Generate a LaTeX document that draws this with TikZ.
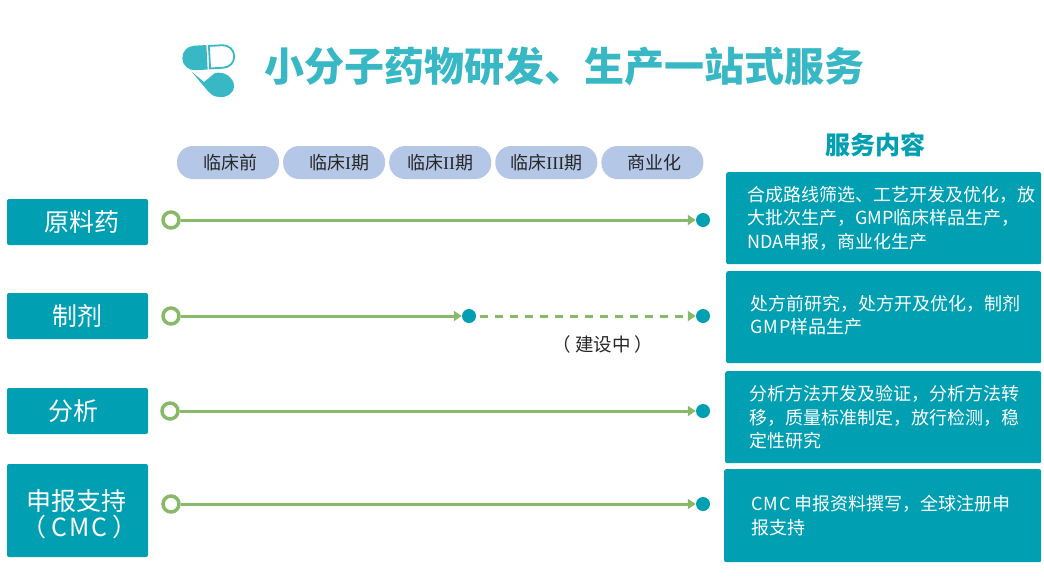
\documentclass[tikz,border=0pt]{standalone}
\usepackage{fontspec}
\setmainfont{Noto Sans CJK SC}
\newfontfamily\serifi{Liberation Serif}
\newcommand{\widelatin}[1]{{\addfontfeature{LetterSpace=6}#1}}
\usetikzlibrary{arrows.meta, positioning, calc}
\definecolor{tealbox}{RGB}{0,159,178}
\definecolor{titleteal}{RGB}{56,184,197}
\definecolor{pillblue}{RGB}{180,199,231}
\definecolor{linegreen}{RGB}{135,185,105}
\begin{document}
\begin{tikzpicture}[x=1pt, y=-1pt]
% node styles
\tikzstyle{stage} = [rectangle, rounded corners=16pt, fill=pillblue, minimum width=102pt, minimum height=33pt, inner sep=0pt, font=\fontsize{18}{20}\selectfont, text=black!85]
\tikzstyle{track} = [rectangle, rounded corners=2pt, fill=tealbox, text=white, minimum width=141pt, inner sep=0pt, align=center, font=\fontsize{25}{26}\selectfont]
\tikzstyle{service} = [rectangle, rounded corners=2pt, fill=tealbox, anchor=north west, inner sep=0pt]
\tikzstyle{detail} = [anchor=west, inner sep=0pt, text=white, align=left, font=\fontsize{18}{23.5}\selectfont]
\tikzstyle{start} = [circle, draw=linegreen, line width=3.5pt, fill=white, minimum size=16pt, inner sep=0pt]
\tikzstyle{dot} = [circle, fill=tealbox, minimum size=14pt, inner sep=0pt]
\tikzstyle{line} = [draw=linegreen, line width=3pt, -{Triangle[length=8pt,width=10pt]}]
\useasboundingbox (0,0) rectangle (1044,576);

% icon
\begin{scope}[rotate around={3:(208,57)}]
\fill[titleteal] (207,45) -- (194.5,45) arc[start angle=90, end angle=270, radius=12.25pt] -- (207,69.5) -- cycle;
\draw[titleteal, line width=1.8pt] (209.5,46) -- (223,46) arc[start angle=90, end angle=-90, radius=11.25pt] -- (209.5,68.5) -- cycle;
\end{scope}
\fill[titleteal] (191.5,71.5) -- (204,82) -- (215,73) .. controls (225,71) and (234,78) .. (234,86)
  .. controls (234,94) and (226,98) .. (219,97) .. controls (213,97) and (210,93) .. (207,90) -- cycle;
\node (title) at (564,66) {\fontsize{40}{42}\selectfont\bfseries\color{titleteal}小分子药物研发、生产一站式服务};

% stages
\node [stage] (pre) at (228,162.5) {\hspace*{4pt}临床前};
\node [stage, right=3.7pt of pre] (one) {\hspace*{10pt}临床{\serifi I}期};
\node [stage, right=3.7pt of one] (two) {临床{\serifi II}期};
\node [stage, right=3.7pt of two] (three) {临床{\serifi III}期};
\node [stage, right=3.7pt of three] (market) {\hspace*{5pt}商业化};
\node (content) at (875,145) {\fontsize{25}{27}\selectfont\bfseries\color{tealbox}服务内容};

% left column
\node [track, minimum height=46pt] (api) at (77.5,222) {\hspace*{8pt}原料药};
\node [track, minimum height=46pt] (prep) at (77.5,316) {制剂};
\node [track, minimum height=46pt] (ana) at (77.5,411) {分析\hspace*{8pt}};
\node [track, minimum height=93pt] (cmc) at (77.5,510.5) {};
\node [text=white, align=center, inner sep=0pt, font=\fontsize{25}{26}\selectfont] (cmcname) at ($(cmc)+(-1,4)$) {申报支持\\\hspace*{6pt}（ \widelatin{CMC} ）};

% service boxes
\node [service, minimum width=315pt, minimum height=92pt] (sa) at (726,172) {};
\node [service, minimum width=315pt, minimum height=92pt] (sb) at (726,271) {};
\node [service, minimum width=316pt, minimum height=92pt] (sc) at (725,371) {};
\node [service, minimum width=317pt, minimum height=93pt] (sd) at (724,469) {};
\node [detail] (ta) at ($(sa.west)+(21,0)$) {合成路线筛选、工艺开发及优化，放\\大批次生产，GMP临床样品生产，\\NDA申报，商业化生产};
\node [detail] (tb) at ($(sb.west)+(24,-2)$) {处方前研究，处方开及优化，制剂\\\widelatin{GMP}样品生产};
\node [detail] (tc) at ($(sc.west)+(24,0)$) {分析方法开发及验证，分析方法转\\移，质量标准制定，放行检测，稳\\定性研究};
\node [detail] (td) at ($(sd.west)+(27,0)$) {\widelatin{CMC} 申报资料撰写，全球注册申\\报支持};

% tracks
\node [start] (s1) at (171,220) {};
\node [dot] (e1) at (703,220) {};
\node [start] (s2) at (171,316) {};
\node [dot] (m2) at (469,316) {};
\node [dot] (e2) at (703,316) {};
\node [start] (s3) at (170,411) {};
\node [dot] (e3) at (703,411) {};
\node [start] (s4) at (171,504) {};
\node [dot] (e4) at (703,504) {};
\coordinate (m2r) at ($(m2)+(11,0)$);

% connectors
\path [line] (s1) -- (e1);
\path [line] (s2) -- (m2);
\path [line, dash pattern=on 8pt off 7pt] (m2r) -- (e2);
\path [line] (s3) -- (e3);
\path [line] (s4) -- (e4);

\node [font=\fontsize{18.5}{20}\selectfont, text=black!85] (wip) at (603,344) {（ 建设中 ）};
\end{tikzpicture}
\end{document}
